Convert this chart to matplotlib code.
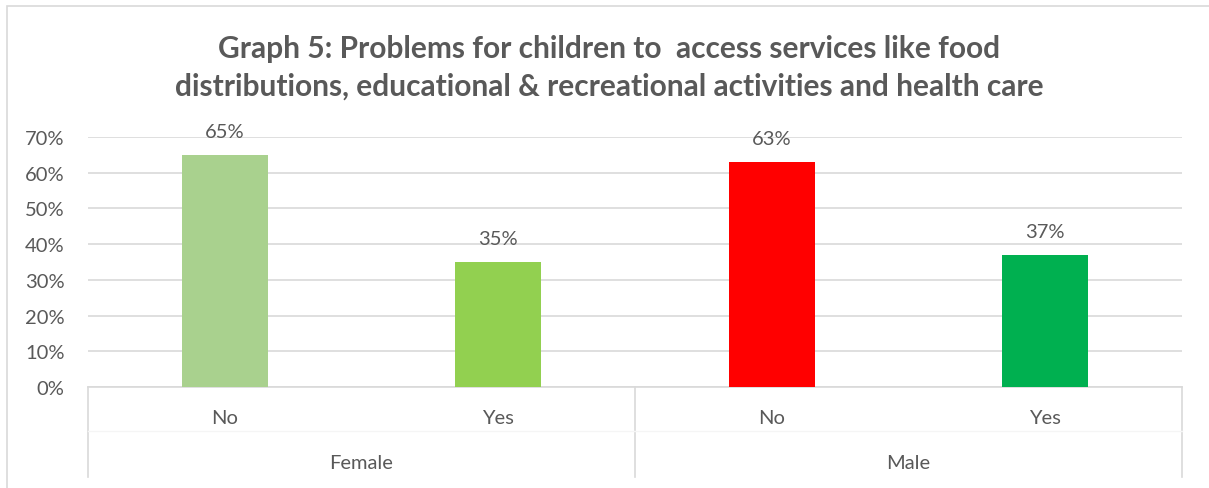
import matplotlib.pyplot as plt
from matplotlib.patches import Rectangle
from matplotlib.transforms import blended_transform_factory

plt.rcParams['font.family'] = ['Lato', 'DejaVu Sans']

groups = ['Female', 'Male']
answers = ['No', 'Yes', 'No', 'Yes']
shares = [0.65, 0.35, 0.63, 0.37]
bar_colors = ['#a9d18e', '#92d050', '#ff0000', '#00b050']
yticks = [0, 0.1, 0.2, 0.3, 0.4, 0.5, 0.6, 0.7]

text_grey = '#595959'
line_grey = '#d9d9d9'

fig = plt.figure(figsize=(12.09, 4.89), dpi=100)
ax = fig.add_axes([0.0728, 0.2065, 0.9049, 0.5113])

x = list(range(len(shares)))
ax.bar(x, shares, width=0.314, color=bar_colors, zorder=3)

for xi, v in zip(x, shares):
    ax.annotate(f'{v:.0%}', (xi, v), xytext=(0, 11), textcoords='offset points',
                ha='center', va='bottom', fontsize=14.5, color=text_grey)

ax.set_xlim(-0.5, len(shares) - 0.5)
ax.set_ylim(0, 0.7)
ax.set_yticks(yticks)
ax.set_yticklabels([f'{t:.0%}' for t in yticks])
ax.tick_params(axis='y', length=0, pad=17, labelsize=14.5, labelcolor=text_grey)
ax.set_xticks([])
ax.grid(axis='y', color=line_grey, linewidth=1.2, zorder=0)
for s in ['top', 'right', 'left']:
    ax.spines[s].set_visible(False)
ax.spines['bottom'].set_color(line_grey)
ax.spines['bottom'].set_linewidth(1.2)

# two-level category axis drawn below the plot
trans = blended_transform_factory(ax.transData, ax.transAxes)
for xi, a in zip(x, answers):
    ax.text(xi, -0.123, a, transform=trans, ha='center', va='center',
            fontsize=14.5, color=text_grey)
for gi, g in enumerate(groups):
    ax.text(gi * 2 + 0.5, -0.302, g, transform=trans, ha='center', va='center',
            fontsize=14.5, color=text_grey)
for xs in [-0.5, 1.5, 3.5]:
    ax.plot([xs, xs], [0, -0.36], transform=trans, color=line_grey,
            linewidth=1.2, clip_on=False)
ax.plot([-0.5, 3.5], [-0.176, -0.176], transform=trans, color='#f5f5f5',
        linewidth=1, clip_on=False)

fig.text(0.504, 0.861,
         'Graph 5: Problems for children to  access services like food\n'
         'distributions, educational & recreational activities and health care',
         ha='center', va='center', fontsize=21.5, fontweight='bold',
         color=text_grey, linespacing=1.42)

fig.patches.append(Rectangle((7 / 1209, -0.01), 1.02, 1 - 7 / 489 + 0.01,
                             transform=fig.transFigure, fill=False,
                             edgecolor=line_grey, linewidth=1.2))

fig.savefig('out.png', dpi=100)
